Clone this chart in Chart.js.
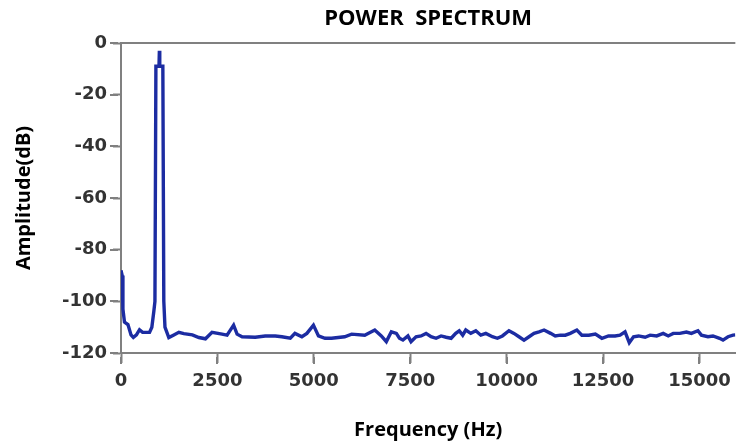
<!DOCTYPE html>
<html>
<head>
<meta charset="utf-8">
<script src="https://cdn.jsdelivr.net/npm/chart.js@4/dist/chart.umd.min.js"></script>
<style>
  html, body { margin: 0; padding: 0; background: #fff; }
  #wrap { width: 739px; height: 446px; }
</style>
</head>
<body>
<div id="wrap"><canvas id="spec" width="739" height="446"></canvas></div>
<script>
// spectrum (Hz, dB)
const freqHz = [
  0, 30, 50, 90, 180, 260, 320, 400, 480, 560, 650, 740, 800, 850, 880,
  905, 985, 995, 1005, 1085, 1110, 1140, 1240, 1370, 1500, 1630, 1850, 2020, 2190, 2360,
  2620, 2750, 2920, 3010, 3140, 3480, 3740, 4000, 4170, 4390, 4510, 4690, 4820, 4990, 5120,
  5290, 5460, 5800, 5980, 6320, 6580, 6750, 6880, 7010, 7140, 7220, 7310, 7440, 7520, 7650,
  7780, 7910, 8040, 8170, 8300, 8430, 8560, 8680, 8770, 8860, 8940, 9070, 9200, 9330, 9460,
  9630, 9760, 9890, 10060, 10190, 10320, 10450, 10580, 10710, 10840, 10970, 11140, 11260, 11390, 11520,
  11650, 11820, 11950, 12130, 12300, 12470, 12640, 12810, 12940, 13070, 13180, 13290, 13420, 13590, 13720,
  13890, 14060, 14190, 14320, 14490, 14660, 14790, 14960, 15050, 15220, 15350, 15520, 15610, 15740, 15870, 15930
]
const ampDb = [
  -88, -90, -103, -108, -109, -113, -114, -113, -111, -112, -112, -112, -110, -104, -100,
  -9, -9, -3, -9, -9, -100, -110, -114, -113, -112, -112.5, -113, -114, -114.5, -112,
  -112.7, -113.1, -109.2, -112.7, -113.7, -113.9, -113.4, -113.4, -113.7, -114.3, -112.4, -113.7, -112.4, -109.2, -113.4,
  -114.3, -114.3, -113.7, -112.7, -113.1, -111.1, -113.4, -115.6, -111.8, -112.4, -114.3, -115, -113.4, -115.6, -113.7,
  -113.4, -112.4, -113.7, -114.3, -113.4, -113.9, -114.3, -112.4, -111.4, -113.1, -111.1, -112.4, -111.4, -113.1, -112.4,
  -113.7, -114.3, -113.4, -111.4, -112.4, -113.7, -115, -113.7, -112.4, -111.8, -111.1, -112.4, -113.4, -113.1, -113.1,
  -112.4, -111.1, -113.1, -113.1, -112.7, -114.3, -113.4, -113.4, -113.1, -111.8, -116, -113.7, -113.4, -113.9, -113.1,
  -113.4, -112.4, -113.4, -112.4, -112.4, -111.9, -112.4, -111.4, -113.1, -113.7, -113.4, -114.3, -115, -113.7, -113.1, -113
]
const xTicks = [0, 2500, 5000, 7500, 10000, 12500, 15000]
const yTicks = [0, -20, -40, -60, -80, -100, -120]

const AXIS_GRAY = '#808080'
const LINE_BLUE = '#1c2ca2'

// top frame line of the plot box + the short tick marks outside the axes
const frame = {
  id: 'frame',
  afterDraw(chart) {
    const { ctx, chartArea, scales } = chart
    ctx.save()
    ctx.strokeStyle = AXIS_GRAY
    ctx.lineWidth = 2
    ctx.beginPath()
    ctx.moveTo(chartArea.left - 1, chartArea.top)
    ctx.lineTo(chartArea.right, chartArea.top)
    xTicks.forEach(v => {
      const px = Math.round(scales.x.getPixelForValue(v))
      ctx.moveTo(px, chartArea.bottom + 4)
      ctx.lineTo(px, chartArea.bottom + 11)
    })
    yTicks.forEach(v => {
      const py = Math.round(scales.y.getPixelForValue(v))
      ctx.moveTo(chartArea.left - 11, py)
      ctx.lineTo(chartArea.left - 3, py)
    })
    ctx.stroke()
    ctx.restore()
  }
}

const tickFont = { family: 'DejaVu Sans', weight: 'bold', size: 18 }
const titleFont = { family: 'Open Sans', weight: 'bold', size: 20 }

new Chart(document.getElementById('spec'), {
  type: 'line',
  data: {
    datasets: [{
      data: freqHz.map((f, i) => ({ x: f, y: ampDb[i] })),
      borderColor: LINE_BLUE,
      borderWidth: 3.4,
      pointRadius: 0,
      tension: 0,
      fill: false
    }]
  },
  plugins: [frame],
  options: {
    responsive: false,
    animation: false,
    layout: { padding: 0 },
    plugins: {
      legend: { display: false },
      tooltip: { enabled: false },
      title: {
        display: true,
        text: 'POWER  SPECTRUM',
        fullSize: false,
        color: '#000',
        font: { family: 'Open Sans', weight: 'bold', size: 22 },
        padding: { top: 6, bottom: 10.6 }
      }
    },
    scales: {
      x: {
        type: 'linear',
        min: 0,
        max: 15930,
        afterBuildTicks: s => { s.ticks = xTicks.map(v => ({ value: v })) },
        afterFit: s => { s.height = 93 },
        ticks: {
          color: '#333',
          font: tickFont,
          padding: 8,
          maxRotation: 0,
          callback: v => String(v)
        },
        grid: { color: AXIS_GRAY, drawOnChartArea: false, drawTicks: true, tickLength: 10, tickWidth: 2, tickColor: AXIS_GRAY },
        border: { color: AXIS_GRAY, width: 2 },
        title: {
          display: true,
          text: 'Frequency (Hz)',
          color: '#000',
          font: titleFont,
          padding: { top: 0, bottom: 4 }
        }
      },
      y: {
        min: -120,
        max: 0,
        afterBuildTicks: s => { s.ticks = yTicks.map(v => ({ value: v })) },
        afterFit: s => { s.width = 121 },
        ticks: {
          color: '#333',
          font: tickFont,
          padding: 6,
          callback: v => String(v)
        },
        grid: { color: AXIS_GRAY, drawOnChartArea: false, drawTicks: true, tickLength: 8, tickWidth: 2, tickColor: AXIS_GRAY },
        border: { color: AXIS_GRAY, width: 2 },
        title: {
          display: true,
          text: 'Amplitude(dB)',
          color: '#000',
          font: titleFont,
          padding: { top: 12, bottom: 0 }
        }
      }
    }
  }
})
</script>
</body>
</html>
